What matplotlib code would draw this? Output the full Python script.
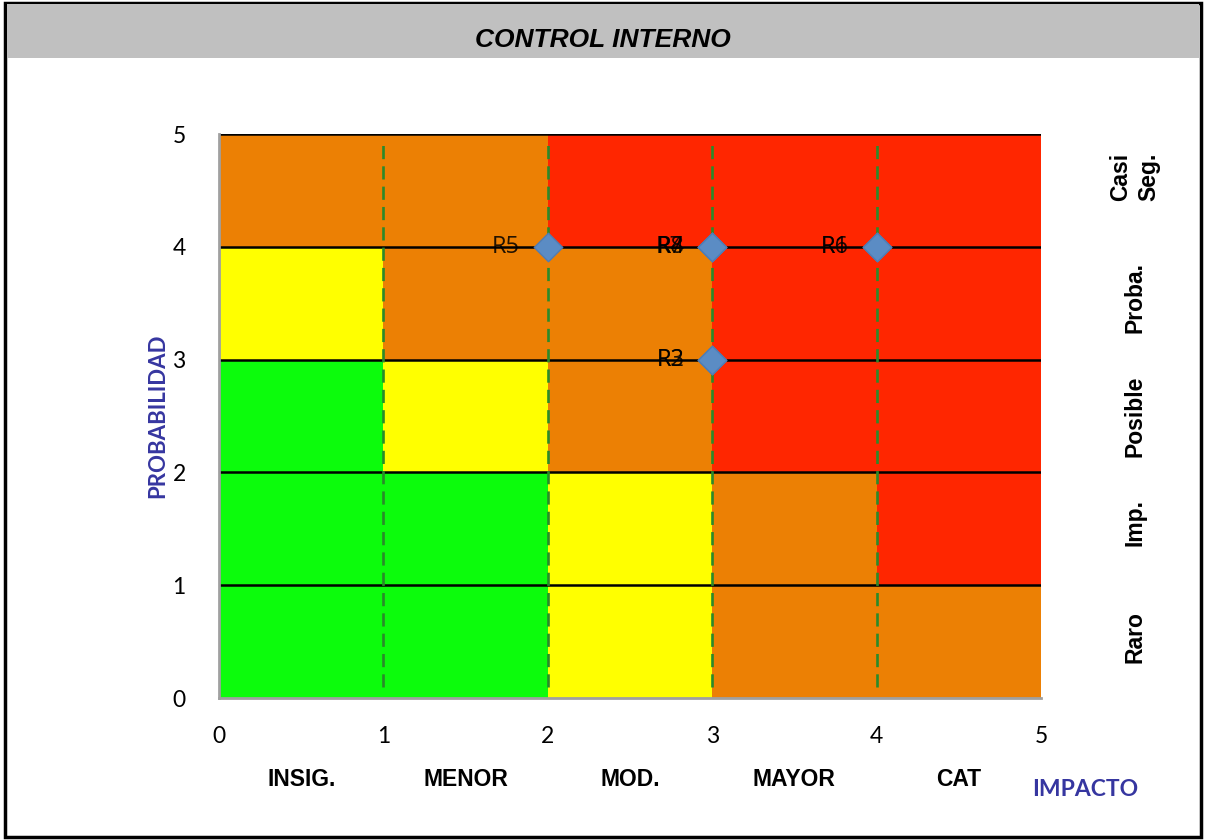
import matplotlib.pyplot as plt
from matplotlib.patches import Rectangle

# risk matrix colour levels, rows from low to high probability
level_colors = {"G": "#0cfc0c", "Y": "#ffff00", "O": "#ec8004", "R": "#ff2600"}
row_0 = ["G", "G", "Y", "O", "O"]
row_1 = ["G", "G", "Y", "O", "R"]
row_2 = ["G", "Y", "O", "R", "R"]
row_3 = ["Y", "O", "O", "R", "R"]
row_4 = ["O", "O", "R", "R", "R"]
grid_rows = [row_0, row_1, row_2, row_3, row_4]

impact_labels = ["INSIG.", "MENOR", "MOD.", "MAYOR", "CAT"]
prob_labels = ["Raro", "Imp.", "Posible", "Proba.", "Casi\nSeg."]
prob_label_y = [0.54, 1.56, 2.5, 3.55, 4.62]

risk_names = ["R1", "R2", "R3", "R4", "R5", "R6", "R7", "R8"]
risk_impact = [4, 3, 3, 3, 2, 4, 3, 3]
risk_prob = [4, 3, 3, 4, 4, 4, 4, 4]

fig = plt.figure(figsize=(12.06, 8.4), dpi=100)

# outer frame + grey title band
fig.patches.append(Rectangle((0.004, 0.003), 0.992, 0.993, transform=fig.transFigure,
                             fill=False, edgecolor="black", linewidth=2.5))
fig.patches.append(Rectangle((0.006, 0.931), 0.988, 0.064, transform=fig.transFigure,
                             facecolor="#c0c0c0", edgecolor="none"))
fig.text(0.5, 0.952, "CONTROL INTERNO", ha="center", va="center", fontsize=19,
         fontweight="bold", fontstyle="italic", family=["Liberation Sans", "DejaVu Sans"])

ax = fig.add_axes([0.1816, 0.169, 0.6816, 0.6714])

for r, row in enumerate(grid_rows):
    for c, lvl in enumerate(row):
        ax.bar(c, 1, width=1, bottom=r, align="edge", color=level_colors[lvl],
               edgecolor="none", zorder=1)

for y in range(1, 6):
    ax.axhline(y, color="black", linewidth=1.8, zorder=2)
for x in range(1, 5):
    ax.plot([x, x], [0.1, 4.95], color="#2a8a2a", linestyle=(0, (5, 2.7)),
            linewidth=1.9, zorder=2)

ax.scatter(risk_impact, risk_prob, marker="D", s=210, color="#5b8cc4",
           edgecolor="#4f7db5", zorder=4, clip_on=False)
for name, x, y in zip(risk_names, risk_impact, risk_prob):
    ax.text(x - 0.17, y, name, ha="right", va="center", fontsize=17,
            color="black", alpha=0.85, family=["Open Sans", "DejaVu Sans"], zorder=5)

ax.set_xlim(0, 5)
ax.set_ylim(0, 5)
ax.set_xticks(range(6))
ax.set_yticks(range(6))
ax.tick_params(length=0, labelsize=16.5)
for lab in ax.get_xticklabels() + ax.get_yticklabels():
    lab.set_family(["Lato", "DejaVu Sans"])
ax.tick_params(axis="x", pad=20)
ax.tick_params(axis="y", pad=24)

for s in ["top", "right"]:
    ax.spines[s].set_visible(False)
for s in ["left", "bottom"]:
    ax.spines[s].set_color("#a0a0a0")
    ax.spines[s].set_linewidth(2)

for i, lab in enumerate(impact_labels):
    ax.text(i + 0.5, -0.72, lab, ha="center", va="center", fontsize=16.5,
            fontweight="bold", family=["Liberation Sans Narrow", "Liberation Sans"],
            transform=ax.transData)
ax.text(5.27, -0.81, "IMPACTO", ha="center", va="center", fontsize=16.5,
        fontweight="bold", color="#3636a0", family=["Lato", "DejaVu Sans"])

for lab, y in zip(prob_labels, prob_label_y):
    ax.text(5.57, y, lab, ha="center", va="center", rotation=90,
            fontsize=16.5, fontweight="bold", linespacing=1.25,
            family=["Liberation Sans", "DejaVu Sans"])

ax.text(-0.37, 2.5, "PROBABILIDAD", ha="center", va="center", rotation=90,
        fontsize=16, fontweight="bold", color="#3636a0", family=["Lato", "DejaVu Sans"])

fig.savefig("out.png", dpi=100)
